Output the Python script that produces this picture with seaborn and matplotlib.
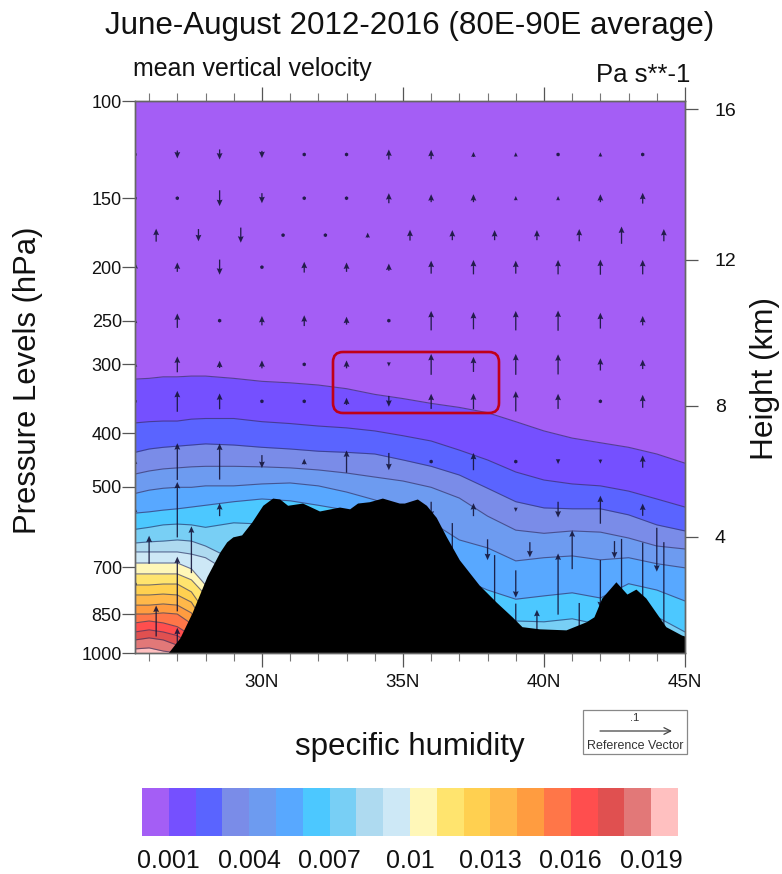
import numpy as np
import matplotlib
matplotlib.use("Agg")
import matplotlib.pyplot as plt
from matplotlib.colors import ListedColormap
from matplotlib.patches import FancyBboxPatch, Rectangle
from matplotlib.transforms import IdentityTransform
import seaborn as sns

# ============================
# DATA
# ============================
n = np.nan

band_colors = ["#A45EF5", "#7550FF", "#5A64FF", "#7A8CE8", "#6D9BF0", "#58A8FF", "#4CC8FF",
               "#78CFF5", "#AEDAF0", "#CDE8F6", "#FFF7B8", "#FFE46E", "#FFD050", "#FFB84A",
               "#FF9C40", "#FF7648", "#FF4E4E", "#E05050", "#E27878", "#FFC0C0"]
cbar_ticks = [1, 4, 7, 10, 13, 16, 19]
cbar_labels = ["0.001", "0.004", "0.007", "0.01", "0.013", "0.016", "0.019"]

# latitudes where the humidity contours were read
lats = [25.5, 26, 26.5, 27, 27.5, 28, 29, 30, 31, 32, 33, 34, 35, 36, 37, 38, 39, 40, 41, 42, 43, 44, 45]

# pressure (hPa) of each humidity contour
q001 = [319, 318, 316, 316, 315, 315, 318, 322, 324, 327, 332, 340, 346, 353, 359, 367, 381, 396, 408, 416, 424, 436, 453]
q002 = [383, 381, 380, 380, 377, 376, 376, 381, 384, 388, 391, 396, 404, 413, 429, 447, 470, 486, 494, 498, 509, 526, 544]
q003 = [433, 427, 424, 422, 420, 418, 420, 424, 427, 431, 433, 436, 447, 459, 476, 503, 532, 546, 548, 548, 562, 586, 601]
q004 = [474, 468, 464, 462, 460, 459, 459, 460, 462, 466, 472, 480, 488, 501, 524, 565, 599, 607, 601, 604, 619, 640, 648]
q005 = [514, 507, 503, 501, 501, 498, 498, 494, 492, 498, 511, 528, 551, 579, 624, 645, 681, 672, 667, 678, 672, 689, 701]
q006 = [558, 555, 551, 548, 544, 540, 532, 526, 530, 540, 551, 599, 651, 692, 731, 769, 799, 788, 778, 795, 749, 769, 805]
q007 = [597, 592, 586, 584, 586, 592, 581, 584, 624, 651, 707, 769, 802, 819, 836, 853, 875, 878, 867, 889, 836, 860, 916]
# the warm contours run into the ground near 28N
q008 = [632, 629, 627, 624, 627, 640, 678]
q009 = [656, 656, 656, 656, 662, 672, 722]
q010 = [687, 687, 687, 687, 704, 753, 871]
q011 = [719, 719, 719, 719, 737, 785, 908]
q012 = [753, 753, 750, 750, 775, 843]
q013 = [785, 785, 782, 785, 809, 889]
q014 = [819, 819, 815, 819, 846, 947]
q015 = [850, 850, 846, 850, 885, 988]
q016 = [882, 875, 882, 896, 930]
q017 = [916, 908, 916, 930, 965]
q018 = [947, 939, 947, 968]
q019 = [983, 979, 992]

# terrain outline
terrain_lat = [26.67, 27.09, 27.52, 28.05, 28.51, 28.75, 28.97, 29.28, 29.64, 30.03, 30.38, 30.63, 30.91, 31.44,
               32.04, 32.75, 33.11, 33.39, 33.81, 34.27, 34.87, 35.05, 35.51, 35.83, 36.18, 36.54, 37.0, 37.7,
               38.31, 38.87, 39.22, 39.83, 40.78, 41.49, 41.77, 42.05, 42.55, 42.94, 43.26, 43.61, 44.32, 44.88, 45]
terrain_p = [1000, 939, 846, 727, 656, 629, 616, 611, 579, 540, 524, 526, 540, 535,
             553, 544, 548, 535, 532, 524, 535, 535, 526, 540, 568, 616, 678, 753,
             809, 860, 896, 904, 908, 878, 860, 795, 743, 782, 766, 795, 896, 928, 932]

# vector rows: the three latitude sets used by the arrows
lat_a = [25.5, 27, 28.5, 30, 31.5, 33, 34.5, 36, 37.5, 39, 40.5, 42, 43.5]
lat_b = [26.25, 27.75, 29.25, 30.75, 32.25, 33.75, 35.25, 36.75, 38.25, 39.75, 41.25, 42.75, 44.25]
lat_c = [26, 27.5, 29, 30.5, 32, 33.5, 35, 36.5, 38, 39.5, 41, 42.5, 44]

# vertical velocity, scaled so that 100 equals the reference vector
w125 = [2, -11, -14, -10, -5, 5, 14, 13, 7, 6, 4, 6, 4]
w150 = [1, 3, -22, -14, -4, 3, 14, 11, 11, 6, 6, 11, 15]
w175 = [18, -17, -21, -3, 4, 7, 15, 14, 14, 14, 17, 24, 17]
w200 = [14, 13, -21, -4, 15, 13, 10, 18, 20, 18, 20, 21, 20]
w250 = [7, 20, 4, 13, 15, 11, 3, 27, 24, 27, 28, 22, 13]
w300 = [7, 22, 10, 11, 3, 11, -6, 29, 21, 29, 28, 17, 13]
w350 = [4, 29, 22, 4, -4, 10, -15, 21, 22, 28, 21, 4, 18]
w450 = [7, 51, 50, -18, 8, 31, -24, 4, 24, 4, -7, -6, 17]
w550 = [7, 77, 18, n, n, n, n, -22, 18, -6, -22, 39, 17]
w650 = [39, 65, n, n, n, n, n, n, -29, -21, 54, -24, -61]
w750 = [4, 76, n, n, n, n, n, n, n, -38, 85, -67, -115]
w875 = [43, n, n, n, n, n, n, -272, -183, 31, -50, -228, -219]
w950 = [n, 36, n, n, n, n, n, n, n, -103, n, n, n]

# axis labels
pressure_ticks = [100, 150, 200, 250, 300, 400, 500, 700, 850, 1000]
lat_major = [30, 35, 40, 45]
lat_minor = [26, 27, 28, 29, 31, 32, 33, 34, 36, 37, 38, 39, 41, 42, 43, 44]
height_km = [4, 8, 12, 16]
height_p = [616, 356.5, 194, 103.5]

# ============================
# FIGURE
# ============================
sns.set_theme(style="white")
plt.rcParams["font.family"] = ["Liberation Sans", "DejaVu Sans"]

W, H = 782, 874
fig = plt.figure(figsize=(W / 100, H / 100), dpi=100)
ax = fig.add_axes([135 / W, (H - 653) / H, 550 / W, 552 / H])

# --- humidity bands, painted from the top down ---
contours = [q001, q002, q003, q004, q005, q006, q007, q008, q009, q010,
            q011, q012, q013, q014, q015, q016, q017, q018, q019]
edges = [c + [1000] * (len(lats) - len(c)) for c in contours]

ax.set_facecolor(band_colors[0])
for i, edge in enumerate(edges):
    ax.fill_between(lats, edge, 1000, color=band_colors[i + 1], linewidth=0, zorder=1)
for edge in edges:
    sns.lineplot(x=lats, y=edge, ax=ax, color="#2e3060", linewidth=0.8, alpha=0.65,
                 estimator=None, legend=False, zorder=2)

# --- vectors ---
rows = [(125, lat_a, w125), (150, lat_a, w150), (175, lat_b, w175), (200, lat_a, w200),
        (250, lat_a, w250), (300, lat_a, w300), (350, lat_a, w350), (450, lat_a, w450),
        (550, lat_a, w550), (650, lat_c, w650), (750, lat_a, w750), (875, lat_b, w875),
        (950, lat_a, w950)]
qx = np.concatenate([r[1] for r in rows])
qy = np.concatenate([[r[0]] * len(r[1]) for r in rows])
qw = np.concatenate([r[2] for r in rows])
keep = np.isfinite(qw)
ax.quiver(qx[keep], qy[keep], np.zeros(keep.sum()), qw[keep], angles="uv", pivot="mid",
          scale=100 / 0.72, scale_units="inches", units="inches", width=0.013,
          headwidth=4.5, headlength=5, headaxislength=4.5, minlength=3,
          color="#15153a", alpha=0.9, zorder=3)

# --- terrain ---
ax.fill_between(terrain_lat, terrain_p, 1000, color="black", linewidth=0, zorder=4)

# --- axes ---
ax.set_yscale("log")
ax.set_xlim(25.5, 45)
ax.set_ylim(1000, 100)
ax.set_xticks(lat_major, [f"{v}N" for v in lat_major])
ax.set_yticks(pressure_ticks, [str(v) for v in pressure_ticks])
ax.yaxis.set_minor_locator(plt.NullLocator())
ax.set_xticks(lat_minor, minor=True)

right = ax.twinx()
right.set_yscale("log")
right.set_ylim(1000, 100)
right.set_yticks(height_p, [str(v) for v in height_km])
right.yaxis.set_minor_locator(plt.NullLocator())
right.tick_params(axis="y", which="major", right=True, direction="out", length=9.5, width=0.9,
                  color="#555555", labelsize=14, pad=12, labelcolor="#111111")

ax.tick_params(axis="x", which="major", bottom=True, direction="out", length=10, width=0.9,
               color="#555555", labelsize=13.5, pad=5, labelcolor="#111111")
ax.tick_params(axis="x", which="minor", bottom=True, direction="out", length=5.5, width=0.8, color="#777777")
ax.tick_params(axis="y", which="major", left=True, direction="out", length=9.5, width=0.9,
               color="#555555", labelsize=13, pad=0, labelcolor="#111111")

# top ticks drawn by hand, the tick params would not show the short ones
top_trans = ax.get_xaxis_transform()
ax.vlines(lat_major, 1, 1 + 14 / 552, transform=top_trans, colors="#555555", linewidth=0.9, clip_on=False)
ax.vlines(lat_minor, 1, 1 + 8 / 552, transform=top_trans, colors="#777777", linewidth=0.8, clip_on=False)

for a in [ax, right]:
    for s in a.spines.values():
        s.set_color("#666666")
        s.set_linewidth(1.0)
        s.set_zorder(6)

# --- titles and labels ---
fig.text(410 / W, (H - 26) / H, "June-August 2012-2016 (80E-90E average)", ha="center", va="center",
         fontsize=22.6, color="#111111")
fig.text(133 / W, (H - 69) / H, "mean vertical velocity", ha="left", va="center", fontsize=18, color="#111111")
fig.text(690 / W, (H - 75) / H, "Pa s**-1", ha="right", va="center", fontsize=18.5, color="#111111")
fig.text(28 / W, (H - 380) / H, "Pressure Levels (hPa)", rotation=90, ha="center", va="center",
         fontsize=22.3, color="#111111")
fig.text(765 / W, (H - 379) / H, "Height (km)", rotation=90, ha="center", va="center",
         fontsize=22.7, color="#111111")
fig.text(410 / W, (H - 747) / H, "specific humidity", ha="center", va="center", fontsize=22.5, color="#111111")

# --- red highlight box ---
fig.add_artist(FancyBboxPatch((333, H - 413), 166, 61, boxstyle="round,pad=0,rounding_size=10",
                              transform=IdentityTransform(), fill=False, edgecolor="#c00018",
                              linewidth=1.9, zorder=10))

# --- reference vector ---
fig.add_artist(Rectangle((583, H - 754), 104, 44, transform=IdentityTransform(), fill=False,
                         edgecolor="#888888", linewidth=0.9))
fig.text(635 / W, (H - 718) / H, ".1", ha="center", va="center", fontsize=8, color="#333333")
fig.text(635 / W, (H - 746) / H, "Reference Vector", ha="center", va="center", fontsize=9, color="#333333")
ax.annotate("", xy=(672, H - 731), xytext=(600, H - 731), xycoords="figure pixels",
            textcoords="figure pixels", annotation_clip=False,
            arrowprops=dict(arrowstyle="->", color="#444444", lw=0.9, shrinkA=0, shrinkB=0))

# --- colorbar strip ---
cax = fig.add_axes([142 / W, (H - 836) / H, 536 / W, 48 / H])
sns.heatmap(np.arange(len(band_colors)).reshape(1, -1), ax=cax, cmap=ListedColormap(band_colors),
            cbar=False, xticklabels=False, yticklabels=False)
cax.set_xticks(cbar_ticks, cbar_labels)
cax.tick_params(axis="x", length=0, labelsize=18, pad=9, labelcolor="#111111", rotation=0)

fig.savefig("out.png", dpi=100)
